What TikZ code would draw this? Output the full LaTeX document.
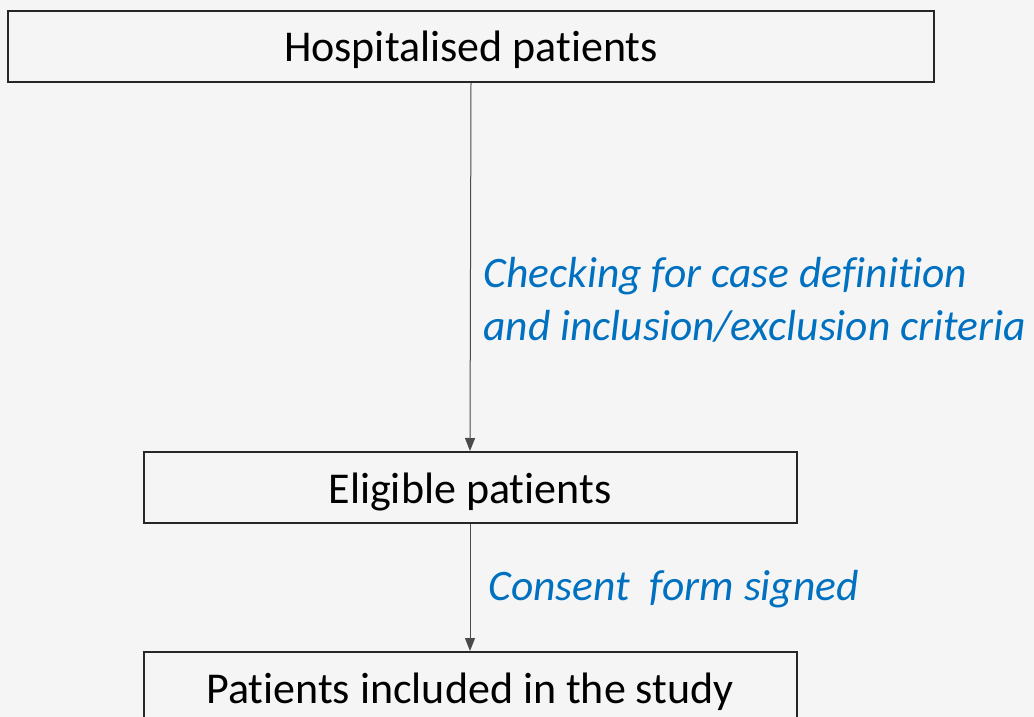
\documentclass[tikz,border=0pt]{standalone}
\usepackage{fontspec}
\setmainfont{Carlito}[Ligatures={NoCommon}]
\usetikzlibrary{arrows.meta}
\definecolor{Paper}{HTML}{F5F5F5}
\definecolor{Frame}{HTML}{262626}
\definecolor{Wire}{HTML}{4A4A4A}
\definecolor{Note}{HTML}{0070C0}
\begin{document}
\begin{tikzpicture}[x=1pt,y=-1pt,box/.style={draw=Frame,line width=2pt,fill=Paper,minimum height=71pt,inner sep=0pt,text height=40pt,text depth=9pt,font=\fontsize{44}{50}\selectfont},flow/.style={draw=Wire,line width=1pt,-{Triangle[width=10pt,length=13pt]}},note/.style={anchor=west,align=left,text=Note,font=\fontsize{43.5}{53}\selectfont\itshape}]
\fill[Paper] (0,0) rectangle (1034,717);
\clip (0,0) rectangle (1034,717);
\node[box,minimum width=926pt] (hosp) at (471,46.5) {Hospitalised patients};
\node[box,minimum width=653pt] (elig) at (470,487.5) {Eligible patients};
\node[box,minimum width=653pt] (incl) at (470,687.5) {Patients included in the study};
\draw[flow] (hosp.south) -- (elig.north);
\draw[flow] (elig.south) -- (incl.north);
\node[note] (check) at (480,300) {Checking for case definition\\and inclusion/exclusion criteria};
\node[note] (consent) at (485,589) {Consent~ form signed};
\end{tikzpicture}
\end{document}
